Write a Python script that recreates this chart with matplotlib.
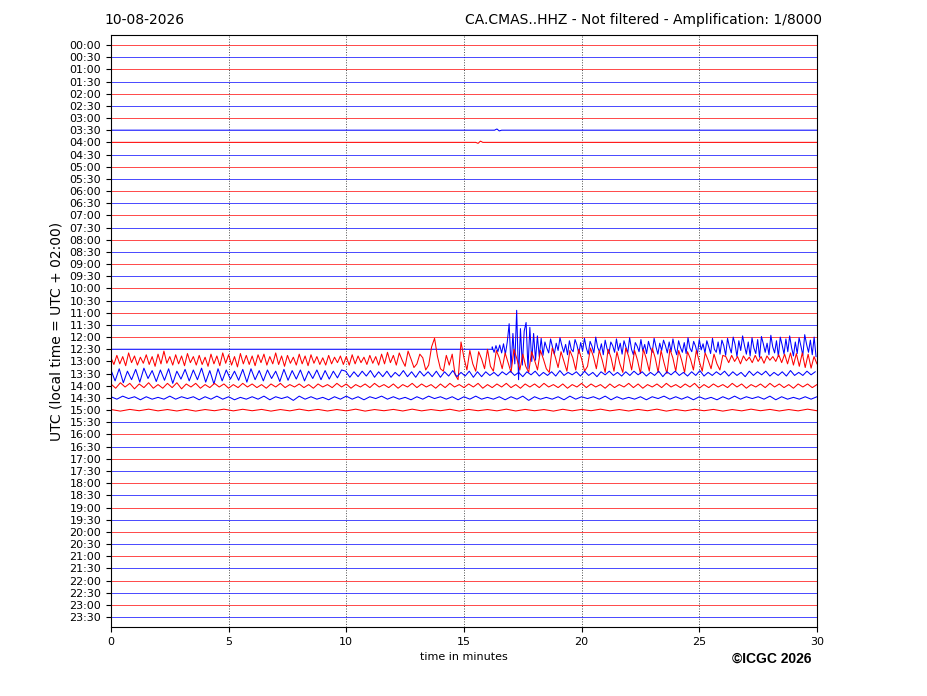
import numpy as np
import matplotlib
matplotlib.use('Agg')
import matplotlib.pyplot as plt

# etiquetas de las filas (cada fila = 30 minutos)
horas = [f'{h:02d}:{m:02d}' for h in range(24) for m in (0, 30)]
minutos_ticks = [0, 5, 10, 15, 20, 25, 30]

# amplitudes leidas del helicorder, en centesimas de separacion entre filas
# fila 12:30 (azul) - sin datos hasta 16.2 min, luego evento
t0_1230 = 16.2
paso_1230 = 0.08
azul_1230 = [20, -25, 30, -20, 35, -30, 45, -40, 60,
             210, -150, 130, -120, 320, -250, 170, -130, 150, 220, -160, 180, -100, 130, -90, 110, -60, 90, -50,
             60, 10, -30, 85, 20, -40, 50, -10, 95, 30, -25, 40, -45, 70, 0, -20, 80, 35, -35, 55,
             -15, 90, 10, -40, 65, 25, -30, 100, 15, -20, 45, -45, 75, 5, -35, 60, 30, -25, 85, -10,
             50, -40, 70, 20, -30, 95, 0, -45, 55, 25, -20, 80, -15, 40, -35, 65, 10, -25, 90, 20,
             -40, 50, -10, 75, 30, -30, 60, -20, 85, 5, -45, 70, 15, -25, 55, -35, 95, 10, -20, 65,
             25, -40, 80, -5, 45, -30, 70, 20, -35, 90, 0, -25, 60, -40, 75,
             30, -50, 90, 20, -30, 100, 40, -60, 70, -10, 110, 30, -40, 60, -55, 95, 10, -35, 80, -65,
             105, 45, -25, 50, -45, 115, 20, -30, 70, -60, 100, 35, -40, 85, -20, 110, 15, -55, 60, -35,
             95, 25, -50, 120, 40, -25, 75, -45, 100, -60]

# fila 13:00 (roja)
paso_1300 = 0.125
rojo_1300 = [30, -25, 50, -20, 40, -35, 70, -10, 45, -30, 35, -15, 55, -25, 40, -40, 60,
             -20, 85, -15, 40, -30, 55, -20, 45, -35, 65, -10, 40, -30, 50, -25, 35,
             -40, 60, -20, 45, -35, 70, -15, 55, -30, 40, -45, 65, -20, 50, -25, 45,
             -35, 55, -10, 60, -30, 40, -20, 70, -25, 45, -40, 50, -15, 35, -30, 60,
             -20, 45, -35, 55, -15, 40, -25, 30, -30, 50, -20, 35, -10, 45, -25, 40,
             -30, 55, -20, 45, -10, 35, -25, 50, -15, 40, -30, 60, -20, 75, -10, 50,
             -30, 70, 10, -40, 85, 20, -50, -20, 60, 30, -70, -30, 120, 190, 40, -60,
             -80, 50, -30, 60, -110, -150, 160, 30, -70, 90, -20, -80, 80, 20, -60, 100,
             -40, -80, 90, 30, -60, 70, -10, -90, 100, 20, -70, 60, -40, -90, 80, 10,
             -70, 90, 20, -60, -90, 110, 40, -50, 80, 0, -80, 90, 30, -70, 100, 20,
             -80, -40, 110, 40, -60, 90, 10, -90, 100, 30, -80, 80, -20, -90, 110, 40,
             -70, 90, 10, -100, 100, 20, -80, 110, 30, -90, 90, -10, -100, 100, 30, -80,
             90, 10, -90, 80, 20, -70, 90, 0, -80, 70, 10, -60, 60, -20, -70, 50,
             40, -10, 50, 0, 40, -20, 45, 5, 35, -10, 50, 0, 40, -15, 45, 10,
             40, 0, 55, -10, 60, -20, 70, -30, 65, -40, 70, -50, 60, -55, 40, -20]

# fila 13:30 (azul)
paso_1330 = 0.175
azul_1330 = [30, -60, 40, -75, 20, -50, 35, -70, 45, -40, 25, -65, 30, -55, 40, -80, 20, -45, 35, -60,
             30, -50, 45, -70, 25, -85, 40, -60, 30, -45, 20, -55, 35, -70, 40, -50, 25, -60, 30, -40,
             20, -65, 35, -55, 25, -45, 30, -60, 20, -40, 30, -50, 25, -45, 20, -35, 30,
             20, -30, 15, -25, 20, -20, 25, -30, 15, -25, 20, -30, 10, -20, 25, -25, 15, -30, 20, -20,
             15, -25, 20, -30, 15, -20, 25, -25, 10, -20, 20, -30, 15, -25,
             15, -15, 10, -20, 15, -10, 20, -15, 10, -25, 15, -10, 20, -20, 10, -15, 15, -20, 25, -15,
             10, -10, 15, -20, 20, -15, 10, -25, 15, -10, 20, -15, 10, -20, 15, -15, 20, -10, 15, -20,
             10, -15, 20, -25, 15, -10, 20, -15, 10, -20, 15, -15, 25, -20, 10, -15, 15, -10, 20, -20,
             15, -15, 10, -25, 20, -15, 15, -10, 20, -20, 10, -15, 15, -20, 25, -15, 10, -15, 20, -10, 15]

# fila 14:00 (roja)
paso_1400 = 0.2
rojo_1400 = [15, -20, 25, -10, 20, -25, 15, -15, 25, -20, 10, -20, 20, -15, 25, -25, 15, -10, 20, -20,
             10, -15, 20, -10, 15, -20, 10, -15, 20, -10, 15, -15, 10, -20, 15, -10, 20, -15, 10, -10,
             15, -15, 10, -20, 15, -10, 10, -15, 20, -10, 15, -20, 10, -10, 15, -15, 20, -10, 10, -15,
             15, -20, 10, -10, 20, -15, 15, -10, 10, -20, 15, -15, 20, -10, 10, -15, 15, -10, 20, -20,
             10, -15, 15, -10, 20, -15, 10, -20, 15, -10, 15, -15, 20, -10, 10, -15, 15, -20, 10, -10,
             20, -15, 15, -10, 10, -20, 15, -15, 10, -10, 20, -15, 15, -20, 10, -10, 15, -15, 20, -10,
             10, -15, 15, -10, 20, -20, 10, -15, 15, -10, 10, -15, 20, -10, 15, -20, 10, -10, 15, -15,
             20, -10, 15, -15, 10, -20, 15, -10, 15, -15, 10]

# fila 14:30 (azul)
paso_1430 = 0.25
azul_1430 = [10, -10, 15, -5, 10, -15, 10, -10, 5, -10, 15, -10, 10, -5, 10, -15, 10, -10, 15, -10,
             10, -15, 5, -10, 10, -10, 15, -15, 10, -5, 10, -20, 15, -10, 10, -10, 5, -15, 10, -10,
             15, -10, 10, -15, 10, -5, 15, -10, 10, -10, 5, -15, 10, -10, 15, -5, 10, -10, 10, -15,
             10, -10, 15, -10, 5, -10, 10, -15, 10, -10, 15, -20, 10, -10, 5, -10, 10, -15, 15, -10,
             10, -5, 10, -10, 15, -15, 10, -10, 5, -10, 10, -15, 10, -5, 15, -10, 10, -10, 10, -15,
             10, -10, 5, -15, 10, -10, 15, -10, 10, -5, 10, -10, 15, -15, 10, -10, 5, -10, 10, -10, 10]

# fila 15:00 (roja)
paso_1500 = 0.4
rojo_1500 = [5, -8, 6, -5, 8, -6, 5, -7, 6, -8, 5, -5, 8, -6, 7, -5, 6, -8, 5, -6,
             8, -5, 6, -7, 5, -6, 8, -8, 5, -5, 6, -7, 8, -6, 5, -5, 7, -8, 6, -5,
             5, -6, 8, -7, 6, -5, 5, -8, 7, -6, 6, -5, 8, -6, 5, -7, 6, -5, 8, -8,
             5, -6, 7, -5, 6, -8, 5, -6, 8, -5, 6, -7, 5, -6, 8, -5]

# pequenas senales en 03:30 y 04:00
t_0330 = [0, 16.3, 16.4, 16.5, 16.6, 30]
v_0330 = [0, 0, 10, -6, 0, 0]
t_0400 = [0, 15.5, 15.6, 15.7, 15.8, 30]
v_0400 = [0, 0, -8, 10, 0, 0]


def serie(valores, paso, inicio=0.0):
    t = inicio + np.arange(len(valores)) * paso
    v = np.array(valores) / 100.0
    keep = t <= 30
    return t[keep], v[keep]


trazas = {
    7: (np.array(t_0330), np.array(v_0330) / 100.0),
    8: (np.array(t_0400), np.array(v_0400) / 100.0),
    26: serie(rojo_1300, paso_1300),
    27: serie(azul_1330, paso_1330),
    28: serie(rojo_1400, paso_1400),
    29: serie(azul_1430, paso_1430),
    30: serie(rojo_1500, paso_1500),
}
t_a, v_a = serie(azul_1230, paso_1230, t0_1230)
trazas[25] = (np.concatenate([[0, t0_1230], t_a]), np.concatenate([[0, 0], v_a]))

fig = plt.figure(figsize=(9.27, 6.96), dpi=100)
ax = fig.add_axes([0.1197, 0.0991, 0.7616, 0.8506])

for i in range(len(horas)):
    color = 'red' if i % 2 == 0 else 'blue'
    if i in trazas:
        t, v = trazas[i]
        ax.plot(t, i - v, color=color, linewidth=0.75)
    else:
        ax.plot([0, 30], [i, i], color=color, linewidth=0.5)

ax.set_xlim(0, 30)
ax.set_ylim(47.82, -0.82)
ax.set_yticks(range(len(horas)))
ax.set_yticklabels(horas, fontsize=8)
ax.set_xticks(minutos_ticks)
ax.tick_params(axis='x', labelsize=8)
ax.grid(axis='x', linestyle=':', color='0.3', linewidth=0.7)
ax.set_xlabel('time in minutes', fontsize=8)
ax.set_ylabel('UTC (local time = UTC + 02:00)', fontsize=10)

fig.text(0.113, 0.971, '10-08-2026', fontsize=10, ha='left', va='center')
fig.text(0.887, 0.971, 'CA.CMAS..HHZ - Not filtered - Amplification: 1/8000',
         fontsize=10, ha='right', va='center')
fig.text(0.875, 0.054, '©ICGC 2026', fontsize=10, fontweight='bold',
         family='Liberation Sans', ha='right', va='center')

fig.savefig('out.png', dpi=100)
